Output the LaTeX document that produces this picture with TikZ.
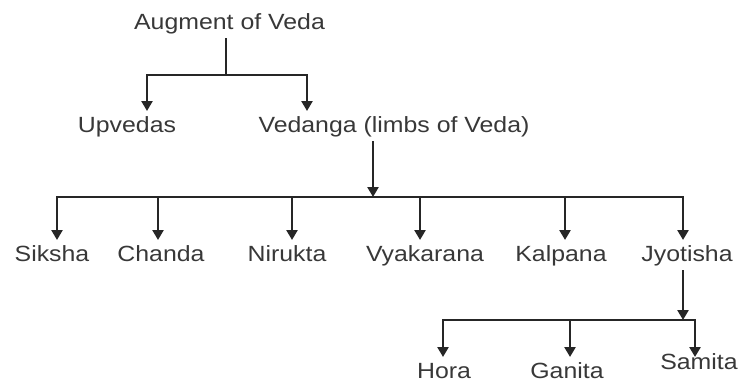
\documentclass[tikz,border=0pt]{standalone}
\usepackage{fontspec}
\setmainfont{Liberation Sans}[FakeStretch=1.13]
\usetikzlibrary{arrows.meta}
\begin{document}
\begin{tikzpicture}[x=1pt,y=-1pt,
  lbl/.style={font=\fontsize{22}{26}\selectfont, inner sep=0pt, outer sep=5pt,
              text height=16pt, text depth=4pt, anchor=base, text=black!78},
  ln/.style={line width=2.6pt, draw=black!85},
  hln/.style={ln, line cap=rect},
  arr/.style={ln, -{Triangle[width=11pt,length=10pt]}}]
\useasboundingbox (0,0) rectangle (741,383);

% labels
\node[lbl] (aug) at (229.5,29) {Augment of Veda};
\node[lbl] (upv) at (127,132) {Upvedas};
\node[lbl] (ved) at (394,132) {Vedanga (limbs of Veda)};
\node[lbl] (sik) at (52,261) {Siksha};
\node[lbl] (cha) at (161,261) {Chanda};
\node[lbl] (nir) at (287,261) {Nirukta};
\node[lbl] (vya) at (425,261) {Vyakarana};
\node[lbl] (kal) at (561,261) {Kalpana};
\node[lbl] (jyo) at (687,261) {Jyotisha};
\node[lbl] (hor) at (444,378) {Hora};
\node[lbl] (gan) at (567,378) {Ganita};
\node[lbl] (sam) at (699,369) {Samita};

% level 1
\coordinate (j1) at (226,75);
\coordinate (a1) at (147,75);
\coordinate (a2) at (307,75);
\draw[ln] (aug.south -| j1) -- (j1);
\draw[hln] (a1) -- (a2);
\draw[arr] (a1) -- (a1 |- upv.north);
\draw[arr] (a2) -- (a2 |- ved.north);

% level 2
\coordinate (j2) at (373,197);
\coordinate (b1) at (57,197);
\coordinate (b2) at (158,197);
\coordinate (b3) at (292,197);
\coordinate (b4) at (420,197);
\coordinate (b5) at (565,197);
\coordinate (b6) at (683,197);
\draw[arr] (ved.south -| j2) -- (j2);
\draw[hln] (b1) -- (b6);
\draw[arr] (b1) -- (b1 |- sik.north);
\draw[arr] (b2) -- (b2 |- cha.north);
\draw[arr] (b3) -- (b3 |- nir.north);
\draw[arr] (b4) -- (b4 |- vya.north);
\draw[arr] (b5) -- (b5 |- kal.north);
\draw[arr] (b6) -- (b6 |- jyo.north);

% level 3
\coordinate (j3) at (683,320);
\coordinate (c1) at (443,320);
\coordinate (c2) at (570,320);
\coordinate (c3) at (695,320);
\draw[arr] (jyo.south -| j3) -- (j3);
\draw[hln] (c1) -- (c3);
\draw[arr] (c1) -- (c1 |- hor.north);
\draw[arr] (c2) -- (c2 |- gan.north);
\draw[arr] (c3) -- ([yshift=-9pt]c3 |- sam.north);
\end{tikzpicture}
\end{document}
